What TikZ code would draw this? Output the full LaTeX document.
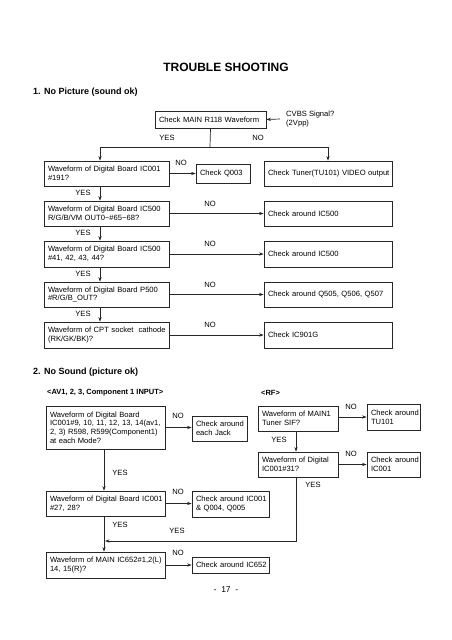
\documentclass[tikz,border=0pt]{standalone}
\usepackage{fontspec}
\setmainfont{Liberation Sans}
\usetikzlibrary{arrows.meta}
\newcommand\jl[1]{\makebox[\linewidth][s]{#1}}
\newcommand\bx[6]{%
  \pgfmathsetmacro\bxcx{(#2+#4)/2}%
  \pgfmathsetmacro\bxcy{(#3+#5)/2}%
  \pgfmathsetmacro\bxw{#4-#2}%
  \pgfmathsetmacro\bxh{#5-#3}%
  \pgfmathsetmacro\bxtw{#4-#2-8}%
  \node[box, minimum width=\bxw pt, minimum height=\bxh pt, text width=\bxtw pt] (#1) at (\bxcx,\bxcy) {#6};}
\tikzset{
  box/.style={draw=black!85, line width=0.7pt, inner xsep=4pt, inner ysep=0pt, align=left,
    font=\fontsize{7.6}{8.8}\selectfont},
  lbl/.style={inner sep=0pt, font=\fontsize{7.6}{9}\selectfont},
  h2/.style={inner sep=0pt, anchor=west, font=\bfseries\fontsize{9}{11}\selectfont},
  h3/.style={inner sep=0pt, anchor=west, font=\bfseries\fontsize{7.5}{9}\selectfont},
  ln/.style={line width=0.7pt, draw=black!85},
  arr/.style={ln, -{Stealth[length=4.5pt,width=3.2pt]}},
}
\begin{document}
\begin{tikzpicture}[x=1pt,y=-1pt]
\useasboundingbox[fill=white] (0,0) rectangle (452,640);
% titles
\node[inner sep=0pt, font=\bfseries\fontsize{12}{14}\selectfont] (title) at (226,67) {TROUBLE SHOOTING};
\node[h2] (s1) at (33,92) {1. No Picture (sound ok)};
% section 1 boxes
\bx{main}{155}{111}{266}{128}{\mbox{Check MAIN R118 Waveform}}
\node[lbl, anchor=west, align=left] (cvbs) at (286,119) {CVBS Signal?\\(2Vpp)};
\bx{b1}{44}{161}{169}{186}{\jl{Waveform of Digital Board IC001}\\\#191?}
\bx{q3}{196}{164}{250}{183}{\mbox{Check Q003}}
\bx{tu}{264}{161}{392}{186}{\mbox{Check Tuner(TU101) VIDEO output}}
\bx{b2}{44}{201}{169}{226}{\jl{Waveform of Digital Board IC500}\\R/G/B/VM OUT0\textasciitilde\#65\textasciitilde 68?}
\bx{r2}{264}{201}{392}{226}{\mbox{Check around IC500}}
\bx{b3}{44}{241}{169}{267}{\jl{Waveform of Digital Board IC500}\\\#41, 42, 43, 44?}
\bx{r3}{264}{241}{392}{267}{\mbox{Check around IC500}}
\bx{b4}{44}{282}{169}{307}{\jl{Waveform of Digital Board P500}\\\#R/G/B\_OUT?}
\bx{r4}{264}{282}{392}{307}{\mbox{Check around Q505, Q506, Q507}}
\bx{b5}{44}{322}{169}{348}{\mbox{Waveform of CPT socket\ \ cathode}\\(RK/GK/BK)?}
\bx{r5}{264}{322}{392}{348}{\mbox{Check IC901G}}
% section 1 connectors
\coordinate (lx) at (100,0);
\coordinate (split) at (210,147);
\draw[arr] ([xshift=-6pt]cvbs.west) -- (main.east);
\draw[ln] (main.south) -- (split);
\draw[arr] (split) -| (lx |- b1.north);
\draw[arr] (split) -| (tu.north);
\draw[arr] (b1.east) -- (q3.west);
\draw[arr] (b1.south -| lx) -- (b2.north -| lx);
\draw[arr] (b2.south -| lx) -- (b3.north -| lx);
\draw[arr] (b3.south -| lx) -- (b4.north -| lx);
\draw[arr] (b4.south -| lx) -- (b5.north -| lx);
\draw[arr] (b2.east) -- (r2.west);
\draw[arr] (b3.east) -- (r3.west);
\draw[arr] (b4.east) -- (r4.west);
\draw[arr] (b5.east) -- (r5.west);
% section 1 labels
\node[lbl] (l1) at (167,138) {YES};
\node[lbl] (l2) at (258,138) {NO};
\node[lbl] (l3) at (181,163) {NO};
\node[lbl] (l4) at (83,193) {YES};
\node[lbl] (l5) at (83,233) {YES};
\node[lbl] (l6) at (83,274) {YES};
\node[lbl] (l7) at (83,314) {YES};
\node[lbl] (l8) at (210,204) {NO};
\node[lbl] (l9) at (210,244) {NO};
\node[lbl] (l10) at (210,285) {NO};
\node[lbl] (l11) at (210,325) {NO};
% section 2
\node[h2] (s2) at (33,372) {2. No Sound (picture ok)};
\node[h3] (av) at (47,393) {<AV1, 2, 3, Component 1 INPUT>};
\node[h3] (rf) at (261,393) {<RF>};
\bx{A}{46}{406}{165}{449}{\jl{Waveform of Digital Board}\\\jl{IC001\#9, 10, 11, 12, 13, 14(av1,}\\\jl{2, 3) R598, R599(Component1)}\\at each Mode?}
\bx{jack}{192}{416}{247}{441}{\mbox{Check around}\\\mbox{each Jack}}
\bx{B}{46}{491}{165}{516}{\jl{Waveform of Digital Board IC001}\\\#27, 28?}
\bx{ic1q}{192}{491}{269}{517}{\mbox{Check around IC001}\\\mbox{\& Q004, Q005}}
\bx{C}{46}{552}{165}{578}{\jl{Waveform of MAIN IC652\#1,2(L)}\\14, 15(R)?}
\bx{c652}{192}{557}{269}{573}{\mbox{Check around IC652}}
\bx{rf1}{258}{406}{338}{431}{\jl{Waveform of MAIN1}\\Tuner SIF?}
\bx{tu1}{367}{404}{420}{430}{\mbox{Check around}\\TU101}
\bx{rf2}{258}{452}{338}{477}{\jl{Waveform of Digital}\\IC001\#31?}
\bx{ic1}{367}{452}{420}{477}{\mbox{Check around}\\IC001}
% section 2 connectors
\coordinate (lx2) at (104,0);
\coordinate (rx) at (296,0);
\coordinate (jn) at (105,541);
\draw[arr] (A.east) -- (A.east -| jack.west);
\draw[arr] (A.south -| lx2) -- (B.north -| lx2);
\draw[arr] (B.east) -- (B.east -| ic1q.west);
\draw[arr] (B.south -| lx2) -- (C.north -| lx2);
\draw[arr] (C.east) -- (c652.west);
\draw[arr] (rf1.east |- tu1.west) -- (tu1.west);
\draw[arr] (rf1.south -| rx) -- (rf2.north -| rx);
\draw[arr] (rf2.east) -- (ic1.west);
\draw[arr] (rf2.south -| rx) |- (jn);
% section 2 labels
\node[lbl] (m1) at (178,416) {NO};
\node[lbl] (m2) at (351,407) {NO};
\node[lbl] (m3) at (279,440) {YES};
\node[lbl] (m4) at (351,454) {NO};
\node[lbl] (m5) at (313,485) {YES};
\node[lbl] (m6) at (120,473) {YES};
\node[lbl] (m7) at (178,492) {NO};
\node[lbl] (m8) at (120,525) {YES};
\node[lbl] (m9) at (177,531) {YES};
\node[lbl] (m10) at (178,553) {NO};
\node[inner sep=0pt, font=\fontsize{8.5}{10}\selectfont] (page) at (226,590) {-\ \ 17\ \ -};
\end{tikzpicture}
\end{document}
